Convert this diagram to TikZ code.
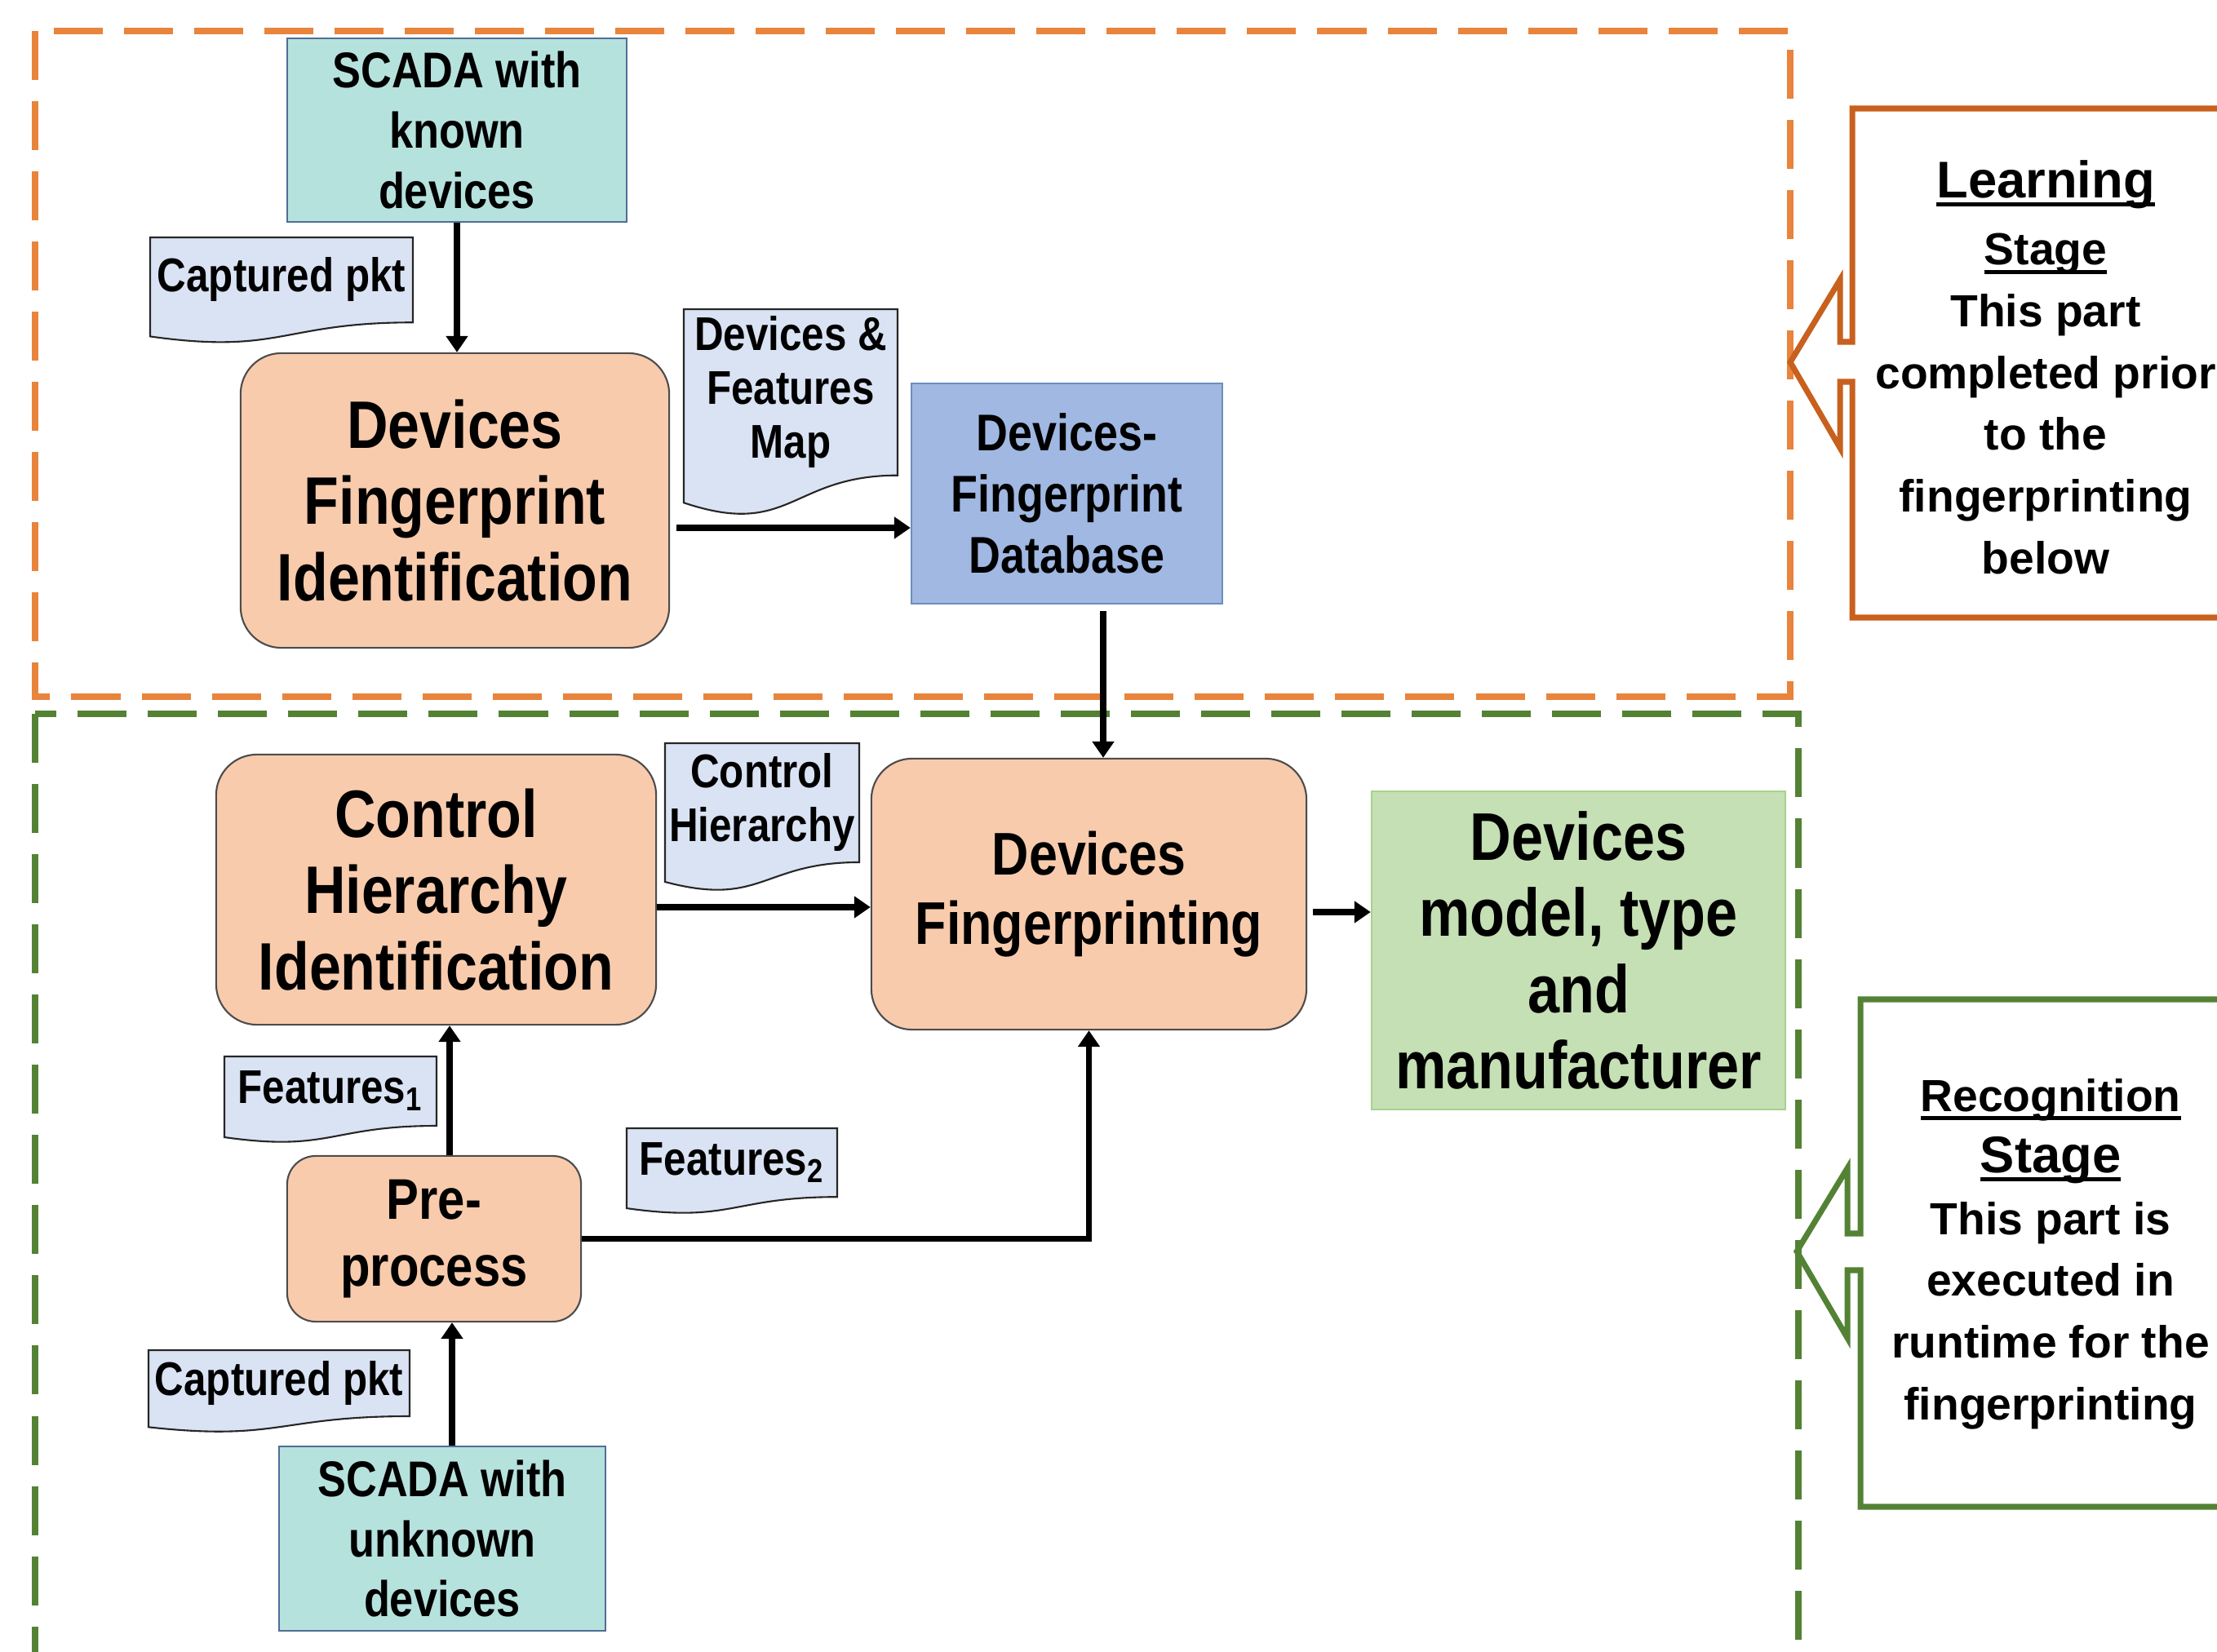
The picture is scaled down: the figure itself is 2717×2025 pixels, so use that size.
\documentclass[tikz,border=0pt]{standalone}
\usepackage{fontspec}
\setmainfont{Liberation Sans}
\newfontfamily\narrowfont{Liberation Sans}[FakeStretch=0.85]
\usetikzlibrary{arrows.meta}

\definecolor{arancio}{RGB}{232,132,60}
\definecolor{aranciodark}{RGB}{200,96,30}
\definecolor{verde}{RGB}{84,130,53}
\definecolor{pesca}{RGB}{248,203,173}
\definecolor{acqua}{RGB}{182,226,222}
\definecolor{acquabordo}{RGB}{80,110,150}
\definecolor{blu}{RGB}{160,184,226}
\definecolor{blubordo}{RGB}{108,142,191}
\definecolor{verdino}{RGB}{197,224,180}
\definecolor{verdinobordo}{RGB}{169,209,142}
\definecolor{carta}{RGB}{218,227,243}

% documento con bordo ondulato: sinistra, alto, destra, altezza, nome, testo
\newcommand{\documento}[6]{%
  \draw[docline] (#1,#2) -- (#3,#2) -- (#3,{#2+0.802*#4})
    .. controls ({(#1+#3)/2},{#2+0.802*#4}) and ({(#1+#3)/2},{#2+1.1075*#4}) .. (#1,{#2+0.934*#4}) -- cycle;
  \node[doctext] (#5) at ({(#1+#3)/2},{#2+0.4*#4}) {#6};}

% sottolineatura spessa
\newcommand{\sottolinea}[1]{\setbox0=\hbox{#1}\rlap{\rule[-3pt]{\wd0}{1.4pt}}\box0}

\begin{document}
\begin{tikzpicture}[x=0.01cm, y=-0.01cm,
    blocco/.style={draw=gray!60!black, fill=pesca, rounded corners=0.5cm, line width=0.6pt, align=center,
        font=\narrowfont\bfseries\fontsize{23.4}{26.5}\selectfont},
    scada/.style={draw=acquabordo, fill=acqua, line width=0.6pt, align=center,
        font=\narrowfont\bfseries\fontsize{17.5}{21}\selectfont},
    docline/.style={draw=black!85, fill=carta, line width=0.6pt},
    doctext/.style={align=center, font=\narrowfont\bfseries\fontsize{16.5}{18.7}\selectfont},
    freccia/.style={-{Triangle[length=0.2cm,width=0.26cm]}, line width=2.2pt},
    fase/.style={line width=2.2pt, dash pattern=on 0.6cm off 0.26cm},
    nota/.style={align=center, font=\bfseries\fontsize{15.7}{21.5}\selectfont}]

    % Area della figura
    \path[use as bounding box, fill=white] (0,0) rectangle (2717,2025);
    \clip (0,0) rectangle (2717,2025);

    % Riquadri tratteggiati delle due fasi
    \draw[fase, arancio] (43,38) rectangle (2194,854);
    \draw[fase, verde] (43,875) rectangle (2204,2040);

    % Fase di apprendimento
    \node[scada, minimum width=4.16cm, minimum height=2.25cm] (sk) at (560,159.5) {SCADA with\\known\\devices};
    \node[blocco, minimum width=5.25cm, minimum height=3.61cm] (dfi) at (557.5,613.5) {Devices\\Fingerprint\\Identification};
    \node[draw=blubordo, fill=blu, line width=0.6pt, align=center, minimum width=3.81cm, minimum height=2.7cm,
        font=\narrowfont\bfseries\fontsize{18}{21.3}\selectfont] (db) at (1307.5,605) {Devices-\\Fingerprint\\Database};

    \documento{184}{291}{506}{130}{cap1}{Captured pkt}
    \documento{838}{379}{1100}{254}{dfm}{Devices \&\\Features\\Map}

    % Fase di riconoscimento
    \node[blocco, font=\narrowfont\bfseries\fontsize{21}{24.4}\selectfont,
        minimum width=5.33cm, minimum height=3.32cm] (dfp) at (1334.5,1096) {Devices\\Fingerprinting};
    \node[draw=verdinobordo, fill=verdino, line width=0.6pt, align=center, minimum width=5.07cm, minimum height=3.9cm,
        font=\narrowfont\bfseries\fontsize{23.5}{26.5}\selectfont] (dmt) at (1934.5,1165) {Devices\\model, type\\and\\manufacturer};
    \node[blocco, minimum width=5.39cm, minimum height=3.31cm] (chi) at (534.5,1090.5) {Control\\Hierarchy\\Identification};
    \node[blocco, rounded corners=0.35cm, font=\narrowfont\bfseries\fontsize{20}{23.5}\selectfont,
        minimum width=3.6cm, minimum height=2.03cm] (pre) at (532,1518.5) {Pre-\\process};
    \node[scada, minimum width=4cm, minimum height=2.26cm] (su) at (542,1886) {SCADA with\\unknown\\devices};

    \documento{815}{911}{1053}{182}{chd}{Control\\Hierarchy}
    \documento{275}{1295}{535}{106}{f1}{Features\textsubscript{1}}
    \documento{768}{1383}{1026}{105}{f2}{Features\textsubscript{2}}
    \documento{182}{1655}{502}{101}{cap2}{Captured pkt}

    % Frecce
    \draw[freccia] (sk.south) -- (sk.south |- dfi.north);
    \draw[freccia, shorten <=0.08cm] (dfi.east |- 0,647) -- (db.west |- 0,647);
    \draw[freccia, shorten <=0.08cm] (db.south -| 1352,0) -- (dfp.north -| 1352,0);
    \draw[freccia] (chi.east |- 0,1112) -- (dfp.west |- 0,1112);
    \draw[freccia, shorten <=0.07cm] (dfp.east |- 0,1118) -- (dmt.west |- 0,1118);
    \draw[freccia] (pre.north -| 551,0) -- (chi.south -| 551,0);
    \draw[freccia] (pre.east) -| (dfp.south);
    \draw[freccia] (su.north -| 554,0) -- (pre.south -| 554,0);

    % Riquadri laterali con freccia
    \draw[aranciodark, line width=2pt] (2750,133) -- (2270,133) -- (2270,419) -- (2255,419) -- (2255,343)
        -- (2194,444) -- (2255,549) -- (2255,468) -- (2270,468) -- (2270,757) -- (2750,757);
    \node[nota] (learn) at (2507,450) {{\fontsize{18}{21.5}\selectfont\sottolinea{Learning}}\\[2pt]\sottolinea{Stage}\\This part\\completed prior\\to the\\fingerprinting\\below};

    \draw[verde, line width=2pt] (2750,1225) -- (2280,1225) -- (2280,1512) -- (2264,1512) -- (2264,1432)
        -- (2202,1534) -- (2264,1640) -- (2264,1557) -- (2280,1557) -- (2280,1847) -- (2750,1847);
    \node[nota] (recog) at (2513,1537) {\sottolinea{Recognition}\\{\fontsize{18}{21.5}\selectfont\sottolinea{Stage}}\\This part is\\executed in\\runtime for the\\fingerprinting};
\end{tikzpicture}
\end{document}
